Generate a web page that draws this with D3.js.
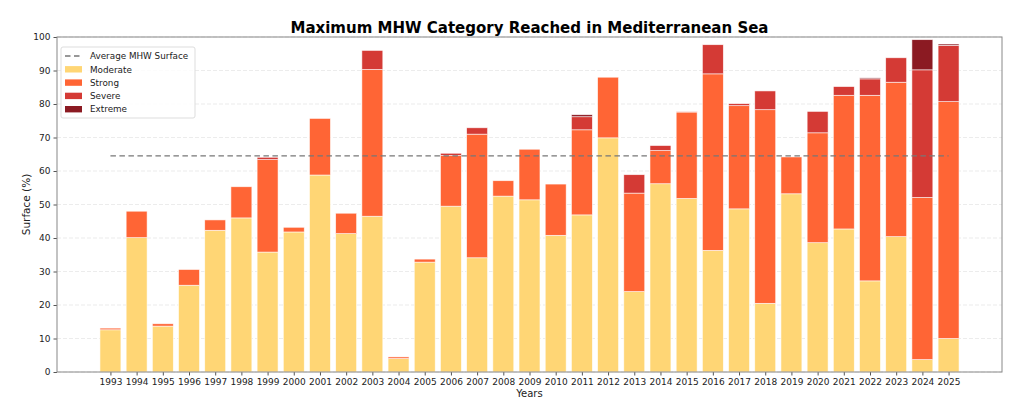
<!DOCTYPE html>
<html><head><meta charset="utf-8">
<script src="https://cdn.jsdelivr.net/npm/d3@7"></script>
<style>body{margin:0;background:#fff;}svg{display:block;font-family:"DejaVu Sans",sans-serif;}</style>
</head><body>
<svg id="c" width="1024" height="420"></svg>
<script>
const years = [1993,1994,1995,1996,1997,1998,1999,2000,2001,2002,2003,2004,2005,2006,2007,2008,2009,2010,2011,2012,2013,2014,2015,2016,2017,2018,2019,2020,2021,2022,2023,2024,2025];
const moderate = [12.6,40.1,13.7,25.9,42.3,46.0,35.8,41.8,58.8,41.3,46.5,4.0,32.8,49.5,34.1,52.5,51.4,40.8,46.9,69.9,24.0,56.2,51.8,36.3,48.7,20.5,53.2,38.6,42.7,27.2,40.4,3.7,10.0];
const strong   = [0.5,7.9,0.7,4.7,3.1,9.3,27.6,1.4,16.9,6.1,43.8,0.5,0.9,15.1,36.9,4.6,15.1,15.3,25.4,18.1,29.4,9.9,25.8,52.7,30.8,57.8,11.0,32.8,39.9,55.4,46.1,48.4,70.7];
const severe   = [0,0,0,0,0,0,0.7,0,0,0,5.7,0,0,0.7,1.9,0,0,0,3.9,0,5.5,1.5,0.2,8.7,0.6,5.6,0,6.4,2.6,4.9,7.3,38.1,16.8];
const extreme  = [0,0,0,0,0,0,0,0,0,0,0,0,0,0,0,0,0,0,0.6,0,0,0,0,0,0,0,0,0,0,0.3,0,9.0,0.4];
const averageSurface = 64.5;
const yTicks = [0,10,20,30,40,50,60,70,80,90,100];
const categories = ["Moderate","Strong","Severe","Extreme"];
const colors = ["#FFD675","#FF6535","#D43A35","#8B1A22"];

const svg = d3.select("#c");
const L=57,R=1002,T=37,B=372;
const x = d3.scaleLinear().domain([1990.96,2027.04]).range([L,R]);
const y = d3.scaleLinear().domain([0,100]).range([B,T]);
const bw = x(1993.4)-x(1992.6);

// grid
svg.append("g").selectAll("line").data(yTicks).join("line")
  .attr("x1",L).attr("x2",R).attr("y1",d=>y(d)).attr("y2",d=>y(d))
  .attr("stroke","#ddd").attr("stroke-width",0.8).attr("stroke-dasharray","4,2").attr("opacity",0.7);

const rows = years.map((yr,i)=>({year:yr,Moderate:moderate[i],Strong:strong[i],Severe:severe[i],Extreme:extreme[i]}));
const stack = d3.stack().keys(categories)(rows);
stack.forEach((s,k)=>{
  svg.append("g").selectAll("rect").data(s.filter(d=>d[1]-d[0]>0)).join("rect")
    .attr("x",d=>x(d.data.year)-bw/2).attr("width",bw)
    .attr("y",d=>y(d[1])).attr("height",d=>y(d[0])-y(d[1]))
    .attr("fill",colors[k]).attr("stroke","#fff").attr("stroke-width",0.7).attr("stroke-opacity",0.8);
});

// average line
svg.append("line").attr("x1",x(years[0])).attr("x2",x(years[years.length-1]))
  .attr("y1",y(averageSurface)).attr("y2",y(averageSurface))
  .attr("stroke","#777").attr("stroke-width",1.3).attr("stroke-dasharray","5.5,3.5");

// axes
const xa = svg.append("g").attr("transform",`translate(0,${B})`)
  .call(d3.axisBottom(x).tickValues(years).tickFormat(d3.format("d")).tickSize(3.5).tickPadding(3));
const ya = svg.append("g").attr("transform",`translate(${L},0)`)
  .call(d3.axisLeft(y).tickValues(yTicks).tickSize(3.5).tickPadding(3));
[xa,ya].forEach(a=>{a.select(".domain").remove();a.selectAll("text").attr("font-size",9).attr("fill","#222").attr("font-family","DejaVu Sans");a.selectAll("line").attr("stroke","#555");});

svg.append("rect").attr("x",L).attr("y",T).attr("width",R-L).attr("height",B-T)
  .attr("fill","none").attr("stroke","#888").attr("stroke-width",1);

svg.append("text").attr("x",(L+R)/2).attr("y",33).attr("text-anchor","middle")
  .attr("font-size",15).attr("font-weight","bold").attr("fill","#000").text("Maximum MHW Category Reached in Mediterranean Sea");
svg.append("text").attr("x",(L+R)/2).attr("y",397).attr("text-anchor","middle")
  .attr("font-size",10).attr("fill","#222").text("Years");
svg.append("text").attr("transform",`translate(30,${(T+B)/2}) rotate(-90)`).attr("text-anchor","middle")
  .attr("font-size",10.5).attr("fill","#222").text("Surface (%)");

// legend
const lg = svg.append("g").attr("transform","translate(61,47)");
lg.append("rect").attr("width",134).attr("height",71).attr("rx",2).attr("fill","#fff").attr("fill-opacity",0.85).attr("stroke","#ddd");
const items = [{label:"Average MHW Surface",type:"line"}].concat(categories.map((c,i)=>({label:c,type:"rect",color:colors[i]})));
items.forEach((it,i)=>{
  const yy = 9+i*13.3;
  if(it.type==="line"){
    lg.append("line").attr("x1",4).attr("x2",22).attr("y1",yy).attr("y2",yy)
      .attr("stroke","#777").attr("stroke-width",1.3).attr("stroke-dasharray","5.5,3.5");
  } else {
    lg.append("rect").attr("x",4).attr("y",yy-3.2).attr("width",17).attr("height",6.4).attr("fill",it.color);
  }
  lg.append("text").attr("x",29).attr("y",yy+3.2).attr("font-size",8.8).attr("fill","#222").text(it.label);
});
</script>
</body></html>
